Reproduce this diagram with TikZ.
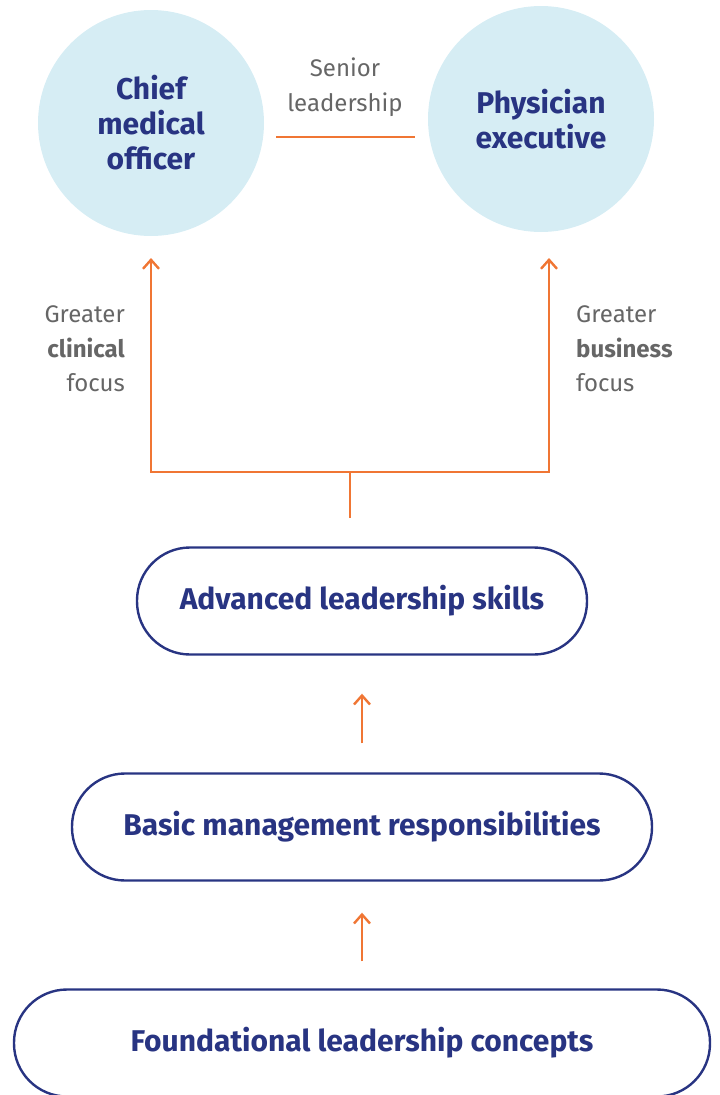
\documentclass[tikz,border=0pt]{standalone}
\usepackage{fontspec}
\setmainfont{Fira Sans}
\usepackage{tikz}
\usetikzlibrary{arrows.meta, positioning, calc}
\definecolor{navy}{RGB}{40,52,130}
\definecolor{paleblue}{RGB}{214,237,244}
\definecolor{myorange}{RGB}{240,118,52}
\definecolor{mygray}{RGB}{102,102,102}

\begin{document}
\begin{tikzpicture}[x=1pt,y=-1pt]
	\tikzset{role/.style={circle,fill=paleblue,minimum size=226pt,inner sep=0pt,align=center,text=navy,font=\fontsize{30}{35}\selectfont\bfseries}}
	\tikzset{stage/.style={draw=navy,line width=2.4pt,rounded corners=53pt,minimum height=107pt,text=navy,font=\fontsize{30}{34}\selectfont\bfseries}}
	\tikzset{note/.style={text=mygray,font=\fontsize{24}{34.5}\selectfont,inner sep=0pt}}
	\tikzset{edge/.style={-{Straight Barb[length=9pt,width=16pt,line width=2.4pt]}, myorange, line width=2.6pt}}
	\tikzset{link/.style={myorange, line width=2.6pt}}
	
	\useasboundingbox (0,0) rectangle (720,1095);
	
	\node(cmo) at (151,123) [role] {Chief\\medical\\officer};
	\node(phys) at (541,119) [role] {Physician\\executive};
	
	\node(senior) at (345,87) [note,align=center] {Senior\\leadership};
	\coordinate(sl_left) at (276,137);
	\coordinate(sl_right) at (415,137);
	\draw[link] (sl_left) -- (sl_right);
	
	\node(clinical) at (125,349) [note,anchor=east,align=right] {Greater\\\textbf{clinical}\\focus};
	\node(business) at (576,349) [note,anchor=west,align=left] {Greater\\\textbf{business}\\focus};
	
	\node(adv) at (362,601) [stage,minimum width=450pt] {Advanced leadership skills};
	\node(basic) at (362,827) [stage,minimum width=580pt] {Basic management responsibilities};
	\node(found) at (362,1043) [stage,minimum width=696pt] {Foundational leadership concepts};
	
	\coordinate(stem) at (350,518);
	\coordinate(fork) at (350,472);
	\coordinate(tip_l) at (151,258);
	\coordinate(tip_r) at (549,258);
	
	\draw[link] (stem) -- (fork);
	\draw[edge] (fork) -| (tip_l);
	\draw[edge] (fork) -| (tip_r);
	
	\draw[edge] ($(basic.north)+(0,-29)$) -- ($(adv.south)+(0,38)$);
	\draw[edge] ($(found.north)+(0,-27)$) -- ($(basic.south)+(0,31)$);
	
\end{tikzpicture}
\end{document}
